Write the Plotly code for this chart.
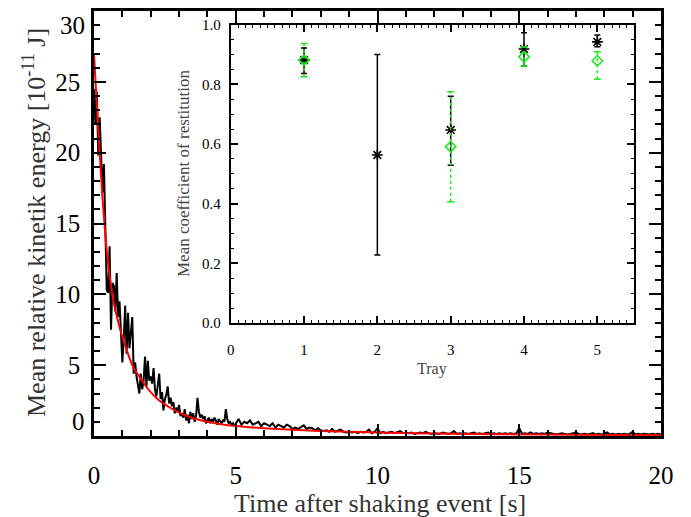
import plotly.graph_objects as go

W, H = 691, 517

# ---------------- main panel data ----------------
t_early = [round(0.05 * i, 2) for i in range(101)]        # 0.00 .. 5.00 s
t_late = [round(5.1 + 0.1 * i, 1) for i in range(150)]     # 5.1 .. 20.0 s

ke_early = [
    24.5, 22.0, 24.3, 19.8, 22.5, 19.3, 17.2, 19.2, 14.5, 10.3,
    10.1, 13.4, 7.5, 10.8, 10.6, 8.8, 11.5, 8.4, 9.5, 7.2,
    5.2, 7.0, 9.2, 5.8, 8.7, 6.2, 7.4, 8.4, 4.4, 5.2,
    4.2, 3.6, 3.0, 4.4, 3.3, 3.9, 5.6, 3.5, 5.3, 3.9,
    4.2, 3.7, 4.8, 3.3, 2.8, 3.6, 4.4, 2.6, 3.1, 1.8,
    2.6, 2.9, 3.5, 2.3, 2.7, 2.1, 2.4, 1.6, 2.0, 1.7,
    2.2, 1.4, 1.6, 1.3, 1.9, 1.1, 1.5, 0.9, 1.7, 1.2,
    1.6, 1.0, 1.4, 2.7, 1.7, 1.3, 1.5, 1.2, 1.4, 0.9,
    1.1, 1.3, 0.9, 1.2, 1.0, 1.3, 1.1, 0.8, 1.2, 1.0,
    0.9, 1.1, 1.0, 1.9, 1.2, 0.9, 1.0, 0.8, 0.9, 0.7,
    0.9,
]
ke_late = [
    1.2, 0.8, 1.0, 0.9, 1.1, 0.8, 0.9, 1.0, 0.7, 0.9,
    0.8, 0.7, 0.9, 0.6, 0.8, 0.7, 0.6, 0.8, 0.7, 0.5,
    0.6, 0.5, 0.6, 0.75, 0.5, 0.6, 0.55, 0.4, 0.55, 0.4,
    0.35, 0.4, 0.3, 0.5, 0.3, 0.4, 0.45, 0.3, 0.25, 0.3,
    0.25, 0.3, 0.2, 0.3, 0.25, 0.3, 0.45, 0.2, 0.3, 0.55,
    0.2, 0.3, 0.2, 0.25, 0.3, 0.2, 0.25, 0.35, 0.2, 0.25,
    0.2, 0.25, 0.15, 0.2, 0.25, 0.2, 0.3, 0.2, 0.15, 0.2,
    0.2, 0.15, 0.25, 0.2, 0.15, 0.2, 0.35, 0.15, 0.2, 0.15,
    0.2, 0.15, 0.2, 0.25, 0.15, 0.2, 0.15, 0.2, 0.25, 0.15,
    0.2, 0.15, 0.2, 0.15, 0.2, 0.15, 0.2, 0.15, 0.2, 0.55,
    0.15, 0.2, 0.15, 0.25, 0.15, 0.2, 0.15, 0.2, 0.15, 0.25,
    0.2, 0.15, 0.1, 0.15, 0.2, 0.15, 0.1, 0.15, 0.2, 0.25,
    0.15, 0.1, 0.15, 0.1, 0.15, 0.2, 0.1, 0.15, 0.1, 0.15,
    0.25, 0.1, 0.15, 0.1, 0.15, 0.1, 0.15, 0.1, 0.15, 0.3,
    0.1, 0.15, 0.1, 0.15, 0.1, 0.1, 0.15, 0.1, 0.15, 0.1,
]
t_data = t_early + t_late
ke_data = ke_early + ke_late

fit_t = [0, 0.1, 0.2, 0.3, 0.4, 0.5, 0.6, 0.7, 0.8, 0.9, 1.0, 1.2, 1.4, 1.6, 1.8,
         2.0, 2.3, 2.6, 3.0, 3.5, 4.0, 4.5, 5, 6, 7, 8, 9, 10, 12, 14, 16, 18, 20]
fit_v = [27.0, 23.3, 20.0, 16.8, 14.2, 12.1, 10.6, 9.4, 8.5, 7.7, 7.0, 5.8, 4.8, 4.2, 3.6,
         3.1, 2.5, 2.1, 1.65, 1.25, 1.0, 0.82, 0.7, 0.55, 0.44, 0.36, 0.3, 0.25, 0.18,
         0.13, 0.1, 0.07, 0.05]

x_ticks = [0, 5, 10, 15, 20]
y_ticks = [5, 10, 15, 20, 25]
y_end_labels = [("0", 1), ("30", 29)]

# ---------------- inset data ----------------
tray = [1, 2, 3, 4, 5]
e_mean = [0.881, 0.563, 0.647, 0.918, 0.942]
e_lo = [0.836, 0.228, 0.529, 0.861, 0.926]
e_hi = [0.922, 0.900, 0.760, 0.973, 0.965]

g_tray = [1, 3, 4, 5]
g_mean = [0.881, 0.591, 0.892, 0.879]
g_lo = [0.825, 0.406, 0.861, 0.817]
g_hi = [0.937, 0.775, 0.925, 0.909]

GREEN = "#1ee81e"
FONT = "Liberation Serif, Times New Roman, serif"

fig = go.Figure()

fig.add_trace(go.Scatter(x=t_data, y=ke_data, mode="lines",
                         line=dict(color="black", width=2), xaxis="x", yaxis="y",
                         showlegend=False, hoverinfo="skip"))
fig.add_trace(go.Scatter(x=fit_t, y=fit_v, mode="lines", line_shape="spline",
                         line=dict(color="#ff0000", width=2), xaxis="x", yaxis="y",
                         showlegend=False, hoverinfo="skip"))

# inset black points with solid error bars
fig.add_trace(go.Scatter(
    x=tray, y=e_mean, mode="markers", xaxis="x2", yaxis="y2", showlegend=False,
    marker=dict(symbol="asterisk-open", size=9, color="black", line=dict(color="black", width=1.6)),
    error_y=dict(type="data", symmetric=False,
                 array=[h - m for h, m in zip(e_hi, e_mean)],
                 arrayminus=[m - l for m, l in zip(e_mean, e_lo)],
                 color="black", thickness=1.5, width=3)))

# inset green points with dashed error bars
gx, gy = [], []
for x, lo, hi in zip(g_tray, g_lo, g_hi):
    gx += [x, x, None]
    gy += [lo, hi, None]
fig.add_trace(go.Scatter(x=gx, y=gy, mode="lines", xaxis="x2", yaxis="y2",
                         line=dict(color=GREEN, width=1.5, dash="3px,3px"),
                         showlegend=False, hoverinfo="skip"))
fig.add_trace(go.Scatter(x=g_tray + g_tray, y=g_lo + g_hi, mode="markers", xaxis="x2", yaxis="y2",
                         marker=dict(symbol="line-ew-open", size=5, color=GREEN,
                                     line=dict(color=GREEN, width=1.5)),
                         showlegend=False, hoverinfo="skip"))
fig.add_trace(go.Scatter(x=g_tray, y=g_mean, mode="markers", xaxis="x2", yaxis="y2",
                         marker=dict(symbol="diamond-open", size=8, color=GREEN,
                                     line=dict(color=GREEN, width=1.6)),
                         showlegend=False, hoverinfo="skip"))

main_dom_x = [94 / W, 661 / W]
main_dom_y = [1 - 436 / H, 1 - 11 / H]
ins_dom_x = [230.7 / W, 634 / W]
ins_dom_y = [1 - 323 / H, 1 - 24.6 / H]

fig.update_layout(
    width=W, height=H,
    margin=dict(l=0, r=0, t=0, b=0),
    paper_bgcolor="white", plot_bgcolor="rgba(0,0,0,0)",
    font=dict(family=FONT, color="black"),
    xaxis=dict(domain=main_dom_x, range=[0, 20], tickvals=x_ticks,
               ticks="inside", ticklen=12, tickwidth=2, tickcolor="black",
               minor=dict(dtick=1, tick0=0, ticks="inside", ticklen=6, tickwidth=2, tickcolor="black"),
               showline=True, linewidth=2.5, linecolor="black", mirror="ticks",
               showgrid=False, zeroline=False, anchor="y",
               tickfont=dict(size=25, family=FONT, color="black"),
               ticklabelstandoff=15, automargin=False),
    yaxis=dict(domain=main_dom_y, range=[0, 30], tickvals=y_ticks,
               ticks="inside", ticklen=12, tickwidth=2, tickcolor="black",
               minor=dict(dtick=1, tick0=0, ticks="inside", ticklen=6, tickwidth=2, tickcolor="black"),
               showline=True, linewidth=2.5, linecolor="black", mirror="ticks",
               showgrid=False, zeroline=False, anchor="x",
               tickfont=dict(size=25, family=FONT, color="black"),
               ticklabelstandoff=6, automargin=False),
    xaxis2=dict(domain=ins_dom_x, range=[0, 5.5], tickvals=[0, 1, 2, 3, 4, 5],
                ticks="inside", ticklen=7, tickwidth=1.5, tickcolor="black",
                minor=dict(dtick=0.1, tick0=0, ticks="inside", ticklen=3.5, tickwidth=1.2, tickcolor="black"),
                showline=True, linewidth=2, linecolor="black", mirror="ticks",
                showgrid=False, zeroline=False, anchor="y2",
                tickfont=dict(size=15, family=FONT, color="black"),
                ticklabelstandoff=12, automargin=False),
    yaxis2=dict(domain=ins_dom_y, range=[0, 1], tickvals=[0, 0.2, 0.4, 0.6, 0.8, 1.0],
                tickformat=".1f",
                ticks="inside", ticklen=7, tickwidth=1.5, tickcolor="black",
                minor=dict(dtick=0.05, tick0=0, ticks="inside", ticklen=3.5, tickwidth=1.2, tickcolor="black"),
                showline=True, linewidth=2, linecolor="black", mirror="ticks",
                showgrid=False, zeroline=False, anchor="x2",
                tickfont=dict(size=15, family=FONT, color="black"),
                ticklabelstandoff=5, automargin=False),
)

annotations = []
for txt, yv in y_end_labels:
    annotations.append(dict(text=txt, x=87 / W, xref="paper", y=yv, yref="y",
                            xanchor="right", yanchor="middle", showarrow=False,
                            font=dict(size=25, family=FONT, color="black")))
annotations.append(dict(text="Time after shaking event [s]", x=(94 + 661) / 2 / W + 0.003, xref="paper",
                        y=1 - 503 / H, yref="paper", xanchor="center", yanchor="middle",
                        showarrow=False, font=dict(size=26, family=FONT, color="#333333")))
annotations.append(dict(text="Mean relative kinetik energy [10<sup>-11</sup> J]", x=35 / W, xref="paper",
                        y=1 - 223 / H, yref="paper", xanchor="center", yanchor="middle",
                        textangle=-90, showarrow=False,
                        font=dict(size=26, family=FONT, color="#333333")))
annotations.append(dict(text="Tray", x=(230.7 + 634) / 2 / W, xref="paper",
                        y=1 - 369 / H, yref="paper", xanchor="center", yanchor="middle",
                        showarrow=False, font=dict(size=16, family=FONT, color="#444444")))
annotations.append(dict(text="Mean coefficient of restitution", x=184 / W, xref="paper",
                        y=1 - 174 / H, yref="paper", xanchor="center", yanchor="middle",
                        textangle=-90, showarrow=False,
                        font=dict(size=17, family=FONT, color="#444444")))
fig.update_layout(annotations=annotations)

fig.write_html("out.html")
